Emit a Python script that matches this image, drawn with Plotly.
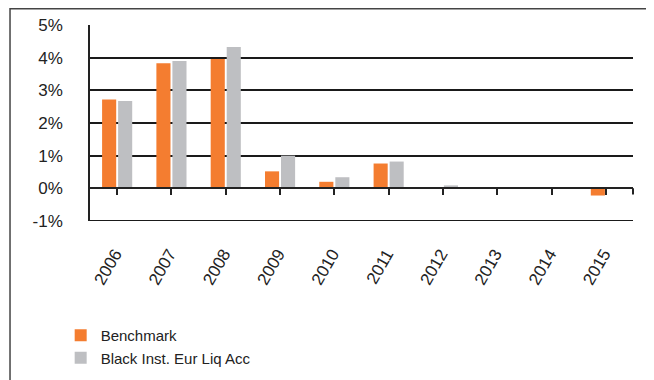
import plotly.graph_objects as go

years = ["2006", "2007", "2008", "2009", "2010", "2011", "2012", "2013", "2014", "2015"]
benchmark = [2.72, 3.83, 3.96, 0.52, 0.20, 0.76, 0.01, 0.0, 0.0, -0.22]
fund = [2.67, 3.90, 4.33, 1.00, 0.34, 0.82, 0.09, 0.0, 0.0, 0.0]
y_tickvals = [-1, 0, 1, 2, 3, 4, 5]
y_ticktext = ["-1%", "0%", "1%", "2%", "3%", "4%", "5%"]
series_names = ["Benchmark", "Black Inst. Eur Liq Acc"]

ORANGE = "#F47D30"
GREY = "#BEBFC2"
FONT = "Liberation Sans, Arial, sans-serif"

fig = go.Figure()
fig.add_trace(go.Bar(x=years, y=benchmark, name=series_names[0],
                     marker=dict(color=ORANGE, line=dict(width=0))))
fig.add_trace(go.Bar(x=years, y=fund, name=series_names[1],
                     marker=dict(color=GREY, line=dict(width=0))))

fig.update_layout(
    width=654, height=380,
    margin=dict(l=82, r=29, t=17, b=167, autoexpand=False),
    paper_bgcolor="white", plot_bgcolor="white",
    barmode="group", bargap=0.41, bargroupgap=0.12,
    font=dict(family=FONT, size=15, color="#222222"),
    showlegend=True,
    legend=dict(x=-0.054, y=-0.50, xanchor="left", yanchor="top",
                font=dict(size=15, color="#222222"),
                bgcolor="rgba(0,0,0,0)", itemwidth=30, tracegroupgap=2),
    xaxis=dict(
        type="category", anchor="free", position=1/6, automargin=False,
        showline=True, linecolor="#222222", linewidth=2,
        ticks="outside", ticklen=6, tickwidth=2, tickcolor="#222222",
        tickangle=-60, ticklabelstandoff=42, ticklabelshift=-2,
        tickfont=dict(size=17, color="#222222"),
        showgrid=False, zeroline=False,
    ),
    yaxis=dict(
        range=[-1, 5], tickvals=y_tickvals, ticktext=y_ticktext,
        automargin=False,
        showgrid=True, gridcolor="#1a1a1a", gridwidth=2,
        zeroline=False,
        showline=True, linecolor="#222222", linewidth=1.5,
        ticks="", ticklabelstandoff=22,
        tickfont=dict(size=17, color="#222222"),
    ),
    shapes=[
        dict(type="rect", xref="paper", yref="paper",
             x0=-0.1473, x1=2.0, y0=-3.0, y1=1.083,
             line=dict(color="#444444", width=1.5),
             fillcolor="rgba(0,0,0,0)", layer="below"),
        dict(type="line", xref="paper", yref="y",
             x0=0, x1=1, y0=y_tickvals[0], y1=y_tickvals[0],
             line=dict(color="#1a1a1a", width=2), layer="below"),
        dict(type="line", xref="paper", yref="y",
             x0=1, x1=1, y0=0, y1=-0.19,
             line=dict(color="#222222", width=2)),
    ],
)

fig.write_html("out.html")
